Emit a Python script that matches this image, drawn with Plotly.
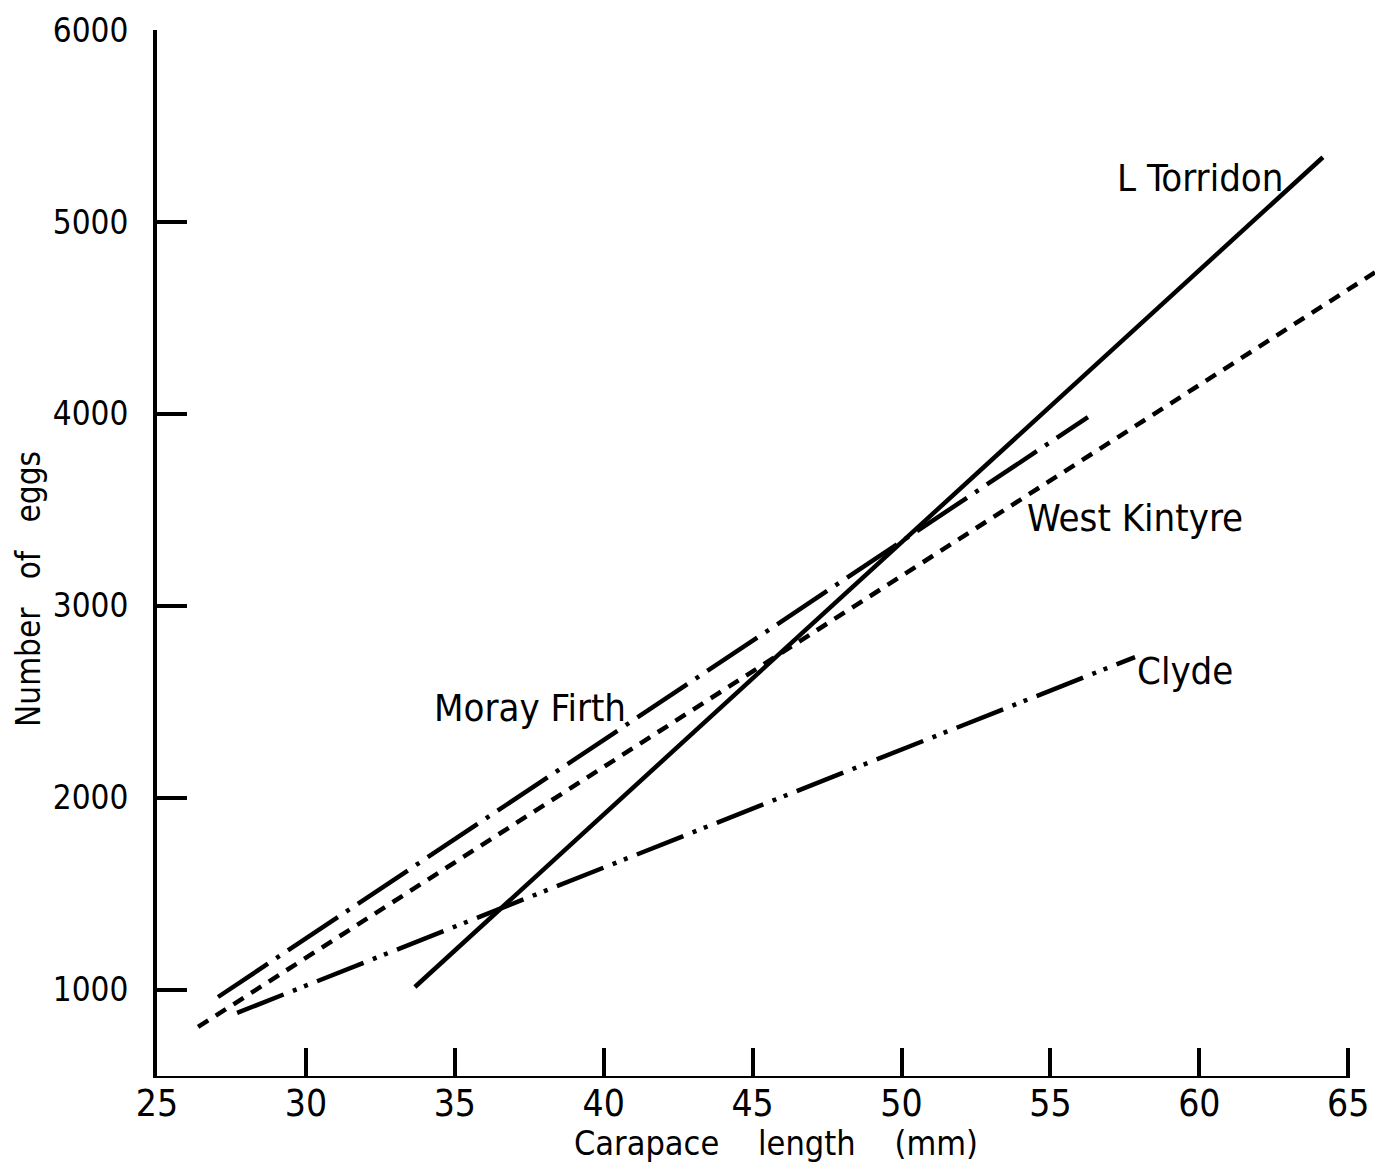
import plotly.graph_objects as go

# ---- data ----
series_names = ["L Torridon", "West Kintyre", "Moray Firth", "Clyde"]
torridon_x = [33.66, 64.15]
torridon_y = [1014, 5337]
kintyre_x = [26.38, 66.17]
kintyre_y = [806, 4764]
moray_x = [27.05, 56.26]
moray_y = [962, 3983]
clyde_x = [27.69, 57.84]
clyde_y = [879, 2733]

x_ticks = [25, 30, 35, 40, 45, 50, 55, 60, 65]
y_ticks = [1000, 2000, 3000, 4000, 5000, 6000]

FONT = "Liberation Sans Narrow, DejaVu Sans Condensed, Arial Narrow, sans-serif"
X_MIN, X_MAX = 25, 65.9
Y_MIN, Y_MAX = 540, 6000

fig = go.Figure()
styles = [
    (torridon_x, torridon_y, "solid"),
    (kintyre_x, kintyre_y, "12px,9px"),
    (moray_x, moray_y, "60px,10px,4px,10px"),
    (clyde_x, clyde_y, "50px,10px,4px,8px,4px,10px"),
]
for name, (xs, ys, dash) in zip(series_names, styles):
    fig.add_trace(go.Scatter(x=xs, y=ys, mode="lines", name=name,
                             line=dict(color="black", width=4.5, dash=dash),
                             showlegend=False, hoverinfo="skip", cliponaxis=True))

# x-axis line drawn from first to last tick only
fig.add_shape(type="line", xref="x", yref="y", x0=x_ticks[0], x1=x_ticks[-1],
              y0=Y_MIN, y1=Y_MIN, line=dict(color="black", width=4))

labels = [
    ("L Torridon", 60.02, 5228),
    ("West Kintyre", 57.84, 3457),
    ("Clyde", 59.52, 2660),
    ("Moray Firth", 37.53, 2467),
]
for text, ax, ay in labels:
    fig.add_annotation(x=ax, y=ay, xref="x", yref="y", text=text, showarrow=False,
                       xanchor="center", yanchor="middle",
                       font=dict(family=FONT, size=38, color="black"))

fig.add_annotation(xref="paper", yref="paper", x=0.508, y=-0.062,
                   text="Carapace&nbsp;&nbsp;&nbsp;&nbsp;length&nbsp;&nbsp;&nbsp;&nbsp;(mm)",
                   showarrow=False, xanchor="center", yanchor="middle",
                   font=dict(family=FONT, size=34, color="black"))
fig.add_annotation(xref="paper", yref="paper", x=-0.106, y=0.4666,
                   text="Number&nbsp;&nbsp;&nbsp;of&nbsp;&nbsp;&nbsp;eggs", textangle=-90,
                   showarrow=False, xanchor="center", yanchor="middle",
                   font=dict(family=FONT, size=33, color="black"))

fig.update_layout(
    width=1367, height=1158,
    margin=dict(l=149, r=0, t=22, b=88),
    plot_bgcolor="white", paper_bgcolor="white",
    xaxis=dict(range=[X_MIN, X_MAX], tickvals=x_ticks, ticktext=[str(v) for v in x_ticks],
               ticks="inside", ticklen=30, tickwidth=4, tickcolor="black",
               showline=False, showgrid=False, zeroline=False, automargin=False,
               tickfont=dict(family=FONT, size=37, color="black")),
    yaxis=dict(range=[Y_MIN, Y_MAX], tickvals=y_ticks, ticktext=[str(v) for v in y_ticks],
               ticks="inside", ticklen=30, tickwidth=4, tickcolor="black",
               showline=True, linewidth=4, linecolor="black", automargin=False,
               showgrid=False, zeroline=False, ticklabelstandoff=18,
               tickfont=dict(family=FONT, size=33, color="black")),
)

fig.write_html("out.html")
